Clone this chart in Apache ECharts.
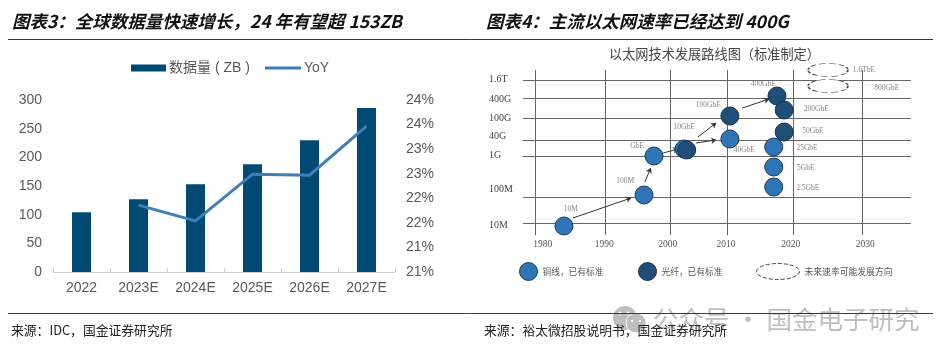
<!DOCTYPE html>
<html>
<head>
<meta charset="utf-8">
<style>html,body{margin:0;padding:0;background:#fff}#c{width:952px;height:359px}</style>
<script src="https://cdn.jsdelivr.net/npm/echarts@6/dist/echarts.min.js"></script>
</head>
<body>
<div id="c"></div>
<script>
// Left chart
const years = ['2022','2023E','2024E','2025E','2026E','2027E'];
const volumeZB = [104,127,153,188,230,286];
const yoyPct = [null,21.86,21.54,22.49,22.47,23.47];

const speedNames = ['10M','100M','1G','40G','100G','400G','1.6T'];
const speedLevels = [0,26,67,83,105,125,143];
const speedLabelPos = [-2,34,68,87,105,124,144];
const yearLines = [1980,1990.7,2000.64,2009.36,2019.45,2030];
const yearNames = ['1980','1990','2000','2010','2020','2030'];
const yearLabelPos = [1981.2,1990.6,2000.3,2009.2,2019.1,2030.5];

const copperPts = [[1984.43,-3],[1996.67,28],[1998.2,67],[2002.8,74],[2009.8,84],[2016.5,76],[2016.5,56],[2016.5,36]];
const fiberPts = [[2003.2,73],[2009.8,107],[2017,127],[2018.1,113],[2018.1,91]];
const futurePts = [[2024.8,153],[2024.8,137]];
const stdNames = ['10M','100M','GbE','10GbE','100GbE','40GbE','400GbE','200GbE','50GbE','25GbE','5GbE','2.5GbE','1.6TbE','800GbE'];
const stdPts = [[1985.5,14],[1993.8,42],[1995.6,77],[2002.8,96],[2006.5,118],[2012,73],[2014.9,139],[2023,114],[2022.5,92],[2021.6,75],[2021.4,55],[2021.7,35],[2030.3,153],[2033.8,135]];
const arrows = [
  [[1985.8,5],[1994.7,25]],
  [[1996.8,41],[1997.7,55]],
  [[1999.6,70],[2001.9,74]],
  [[2004.9,86],[2007.7,100]],
  [[2004.6,80],[2007.7,83]],
  [[2011.7,115],[2015.8,124]]
];

const sans = '"Liberation Sans","Noto Sans CJK SC",sans-serif';
const cjk = '"Noto Sans CJK SC",sans-serif';
const serif = '"Liberation Serif","Noto Serif CJK SC",serif';
const ruleColor = '#0F4365';
const wm = '#BEBEBE';
const ellipseIcon = 'path://M0 50A100 50 0 1 1 200 50A100 50 0 1 1 0 50Z';

const headStyle = {fontFamily:cjk,fontSize:17.5,fontWeight:'bold',fontStyle:'italic',color:'#111'};
const footStyle = {fontFamily:cjk,fontSize:12.8,fontWeight:'normal',color:'#222'};

const chart = echarts.init(document.getElementById('c'),null,{renderer:'canvas'});
chart.setOption({
  animation:false,
  backgroundColor:'#fff',
  title:[
    {text:'图表3：全球数据量快速增长，24 年有望超 153ZB',left:12,top:13,padding:0,textStyle:headStyle},
    {text:'图表4：主流以太网速率已经达到 400G',left:486,top:13,padding:0,textStyle:headStyle},
    {text:'以太网技术发展路线图（标准制定）',left:609,top:47,padding:0,textStyle:{fontFamily:cjk,fontSize:13.2,fontWeight:'normal',color:'#444'}},
    {text:'来源：IDC，国金证券研究所',left:11,top:324,padding:0,textStyle:footStyle},
    {text:'来源：裕太微招股说明书，国金证券研究所',left:484,top:324,padding:0,textStyle:footStyle}
  ],
  legend:[
    {data:[{name:'数据量 ( ZB )',icon:'rect'}],left:131,top:61,itemWidth:35,itemHeight:7,padding:0,
     textStyle:{fontFamily:sans,fontSize:14,color:'#595959',padding:[0,0,0,-2]}},
    {data:[{name:'YoY',icon:'rect',itemStyle:{color:'#3F7DBB'}}],left:265,top:61,itemWidth:36,itemHeight:3,padding:0,
     textStyle:{fontFamily:sans,fontSize:14,color:'#595959',padding:[0,0,0,-2]}},
    {data:[{name:'铜线，已有标准',itemStyle:{borderWidth:1,borderColor:'#1B3A57'}}],left:519,top:262,itemWidth:18,itemHeight:18,itemGap:0,padding:0,
     textStyle:{fontFamily:cjk,fontSize:8.7,color:'#555'}},
    {data:[{name:'光纤，已有标准',itemStyle:{borderWidth:1,borderColor:'#17324C'}}],left:638,top:262,itemWidth:18,itemHeight:18,itemGap:0,padding:0,
     textStyle:{fontFamily:cjk,fontSize:8.7,color:'#555'}},
    {data:[{name:'未来速率可能发展方向',icon:ellipseIcon,itemStyle:{color:'#fff',borderWidth:1,borderColor:'#444',borderType:'dashed'}}],left:756,top:263,itemWidth:43,itemHeight:16,itemGap:0,padding:0,symbolKeepAspect:false,
     textStyle:{fontFamily:cjk,fontSize:8.8,color:'#555'}}
  ],
  grid:[
    {left:53,top:100,width:342,height:172},
    {left:523,top:70,width:388,height:165}
  ],
  xAxis:[
    {type:'category',gridIndex:0,data:years,
     axisLine:{lineStyle:{color:'#D0D0D0',width:1}},
     axisTick:{show:true,inside:true,length:4,lineStyle:{color:'#D0D0D0'}},
     axisLabel:{fontFamily:sans,fontSize:14,color:'#595959',margin:9}},
    {type:'value',gridIndex:1,min:1978.17,max:2037.49,
     axisLine:{show:false},
     axisTick:{show:false,customValues:yearLines},
     splitLine:{show:true,lineStyle:{color:'#666',width:1}},
     axisLabel:{fontFamily:serif,fontSize:9.5,color:'#555',margin:5,customValues:yearLabelPos,
       hideOverlap:false,showMinLabel:true,showMaxLabel:true,
       formatter:v=>yearNames[yearLabelPos.indexOf(v)]}}
  ],
  yAxis:[
    {type:'value',gridIndex:0,min:0,max:300,interval:50,
     axisLine:{show:false},axisTick:{show:false},splitLine:{show:false},
     axisLabel:{fontFamily:sans,fontSize:14,color:'#595959',margin:11}},
    {type:'value',gridIndex:0,position:'right',min:20.5,max:24,interval:0.5,
     axisLine:{show:false},axisTick:{show:false},splitLine:{show:false},
     axisLabel:{fontFamily:sans,fontSize:14,color:'#595959',margin:11,formatter:v=>Math.round(v)+'%'}},
    {type:'value',gridIndex:1,min:-12,max:153,
     axisLine:{show:false},
     axisTick:{show:false,customValues:speedLevels},
     splitLine:{show:true,lineStyle:{color:'#666',width:1}},
     axisLabel:{fontFamily:serif,fontSize:10,color:'#444',margin:34,align:'left',customValues:speedLabelPos,
       formatter:v=>speedNames[speedLabelPos.indexOf(v)]}}
  ],
  series:[
    {name:'数据量 ( ZB )',type:'bar',xAxisIndex:0,yAxisIndex:0,data:volumeZB,barWidth:19,itemStyle:{color:'#004A73'}},
    {name:'YoY',type:'line',xAxisIndex:0,yAxisIndex:1,data:yoyPct,symbol:'none',
     lineStyle:{color:'#3F7DBB',width:3,join:'miter'},itemStyle:{color:'#3F7DBB'}},
    {name:'arrows',type:'lines',coordinateSystem:'cartesian2d',xAxisIndex:1,yAxisIndex:2,polyline:false,
     symbol:['none','arrow'],symbolSize:5,lineStyle:{color:'#333',width:1,opacity:1,curveness:0},
     data:arrows.map(c=>({coords:c})),z:3},
    {name:'铜线，已有标准',type:'scatter',xAxisIndex:1,yAxisIndex:2,data:copperPts,symbol:'circle',symbolSize:18,clip:false,
     itemStyle:{color:'#2E75B6',borderColor:'#1B3A57',borderWidth:1,opacity:1},z:4},
    {name:'光纤，已有标准',type:'scatter',xAxisIndex:1,yAxisIndex:2,data:fiberPts,symbol:'circle',symbolSize:18,clip:false,
     itemStyle:{color:'#1F4E79',borderColor:'#17324C',borderWidth:1,opacity:1},z:5},
    {name:'未来速率可能发展方向',type:'scatter',xAxisIndex:1,yAxisIndex:2,data:futurePts,symbol:'circle',symbolSize:[40,13],clip:false,
     itemStyle:{color:'#fff',borderColor:'#444',borderWidth:1,borderType:'dashed',opacity:1},z:5},
    {name:'labels',type:'scatter',xAxisIndex:1,yAxisIndex:2,symbolSize:0,clip:false,silent:true,z:6,
     data:stdPts.map((p,i)=>({name:stdNames[i],value:p})),
     label:{show:true,position:'inside',formatter:'{b}',fontFamily:serif,fontSize:7.5,color:'#666'}}
  ],
  graphic:[
    {type:'circle',shape:{cx:625,cy:318,r:12},style:{fill:wm},silent:true,z:1},
    {type:'circle',shape:{cx:636,cy:323,r:10},style:{fill:wm,stroke:'#fff',lineWidth:1},silent:true,z:1},
    {type:'circle',shape:{cx:620,cy:313,r:1.6},style:{fill:'#fff'},silent:true,z:1},
    {type:'circle',shape:{cx:628,cy:313,r:1.6},style:{fill:'#fff'},silent:true,z:1},
    {type:'circle',shape:{cx:632,cy:321,r:1.3},style:{fill:'#fff'},silent:true,z:1},
    {type:'circle',shape:{cx:640,cy:321,r:1.3},style:{fill:'#fff'},silent:true,z:1},
    {type:'text',left:653,top:307,style:{text:'公众号 · 国金电子研究',fontFamily:cjk,fontSize:25.5,fill:wm},silent:true,z:1},
    {type:'line',shape:{x1:8,y1:39.5,x2:933,y2:39.5},style:{stroke:ruleColor,lineWidth:1},silent:true,z:50},
    {type:'line',shape:{x1:8,y1:313.5,x2:933,y2:313.5},style:{stroke:ruleColor,lineWidth:1},silent:true,z:50}
  ]
});
</script>
</body>
</html>
